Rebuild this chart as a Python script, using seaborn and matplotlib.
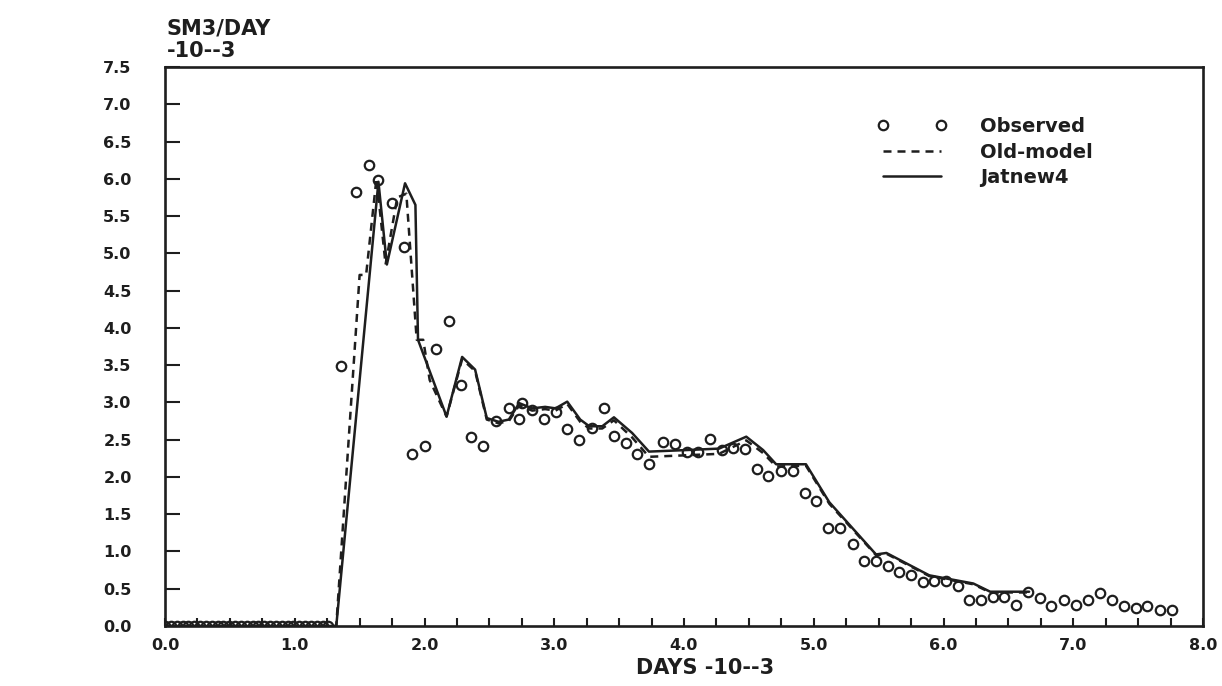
import matplotlib
matplotlib.use("Agg")
import matplotlib.pyplot as plt
import seaborn as sns
import numpy as np
from matplotlib.ticker import MultipleLocator, FormatStrFormatter

# ---------------- data ----------------
obs_zero_days = [0.00, 0.045, 0.09, 0.135, 0.18, 0.225, 0.27, 0.315, 0.36,
                 0.405, 0.45, 0.495, 0.54, 0.585, 0.63, 0.675, 0.72, 0.765,
                 0.81, 0.855, 0.90, 0.945, 0.99, 1.035, 1.08, 1.125, 1.17,
                 1.215, 1.26]
obs_zero_rate = [0.0] * len(obs_zero_days)

obs_days = [1.36, 1.47, 1.57, 1.64, 1.75, 1.84, 1.90, 2.00, 2.09, 2.19,
            2.28, 2.36, 2.45, 2.55, 2.65, 2.73, 2.75, 2.83, 2.92, 3.01,
            3.10, 3.19, 3.29, 3.38, 3.46, 3.55, 3.64, 3.73, 3.84, 3.93,
            4.02, 4.11, 4.20, 4.29, 4.38, 4.47, 4.56, 4.65, 4.75, 4.84,
            4.93, 5.02, 5.11, 5.20, 5.30, 5.39, 5.48, 5.57, 5.66, 5.75,
            5.84, 5.93, 6.02, 6.11, 6.20, 6.29, 6.38, 6.47, 6.56, 6.65,
            6.74, 6.83, 6.93, 7.02, 7.11, 7.21, 7.30, 7.39, 7.48, 7.57,
            7.67, 7.76]
obs_rate = [3.49, 5.82, 6.19, 5.98, 5.67, 5.09, 2.31, 2.42, 3.71, 4.09,
            3.23, 2.53, 2.41, 2.75, 2.93, 2.78, 2.99, 2.90, 2.78, 2.87,
            2.64, 2.50, 2.65, 2.92, 2.55, 2.45, 2.31, 2.17, 2.47, 2.44,
            2.34, 2.34, 2.51, 2.36, 2.39, 2.38, 2.10, 2.01, 2.08, 2.08,
            1.79, 1.68, 1.31, 1.31, 1.10, 0.87, 0.87, 0.81, 0.72, 0.69,
            0.59, 0.60, 0.60, 0.53, 0.35, 0.35, 0.39, 0.39, 0.28, 0.45,
            0.37, 0.27, 0.35, 0.28, 0.35, 0.44, 0.35, 0.27, 0.24, 0.27,
            0.21, 0.22]

old_days = [0.00, 1.32, 1.50, 1.55, 1.63, 1.70, 1.79, 1.86, 1.94, 1.99,
            2.04, 2.17, 2.29, 2.39, 2.48, 2.57, 2.65, 2.73, 2.83, 2.93,
            3.01, 3.10, 3.20, 3.27, 3.37, 3.46, 3.60, 3.73, 4.01, 4.27,
            4.48, 4.61, 4.71, 4.94, 5.12, 5.48, 5.56, 5.89, 6.23, 6.36,
            6.66]
old_rate = [0.00, 0.00, 4.71, 4.71, 6.01, 4.85, 5.75, 5.80, 3.84, 3.84,
            3.30, 2.81, 3.58, 3.42, 2.77, 2.72, 2.75, 2.96, 2.89, 2.91,
            2.89, 2.98, 2.74, 2.65, 2.65, 2.76, 2.53, 2.27, 2.29, 2.31,
            2.49, 2.32, 2.14, 2.15, 1.64, 0.95, 0.97, 0.67, 0.56, 0.45,
            0.45]

jat_days = [0.00, 1.32, 1.645, 1.71, 1.85, 1.93, 1.95, 2.17, 2.29, 2.39,
            2.48, 2.57, 2.65, 2.73, 2.83, 2.93, 3.01, 3.10, 3.20, 3.27,
            3.37, 3.46, 3.60, 3.73, 4.01, 4.27, 4.48, 4.61, 4.71, 4.94,
            5.12, 5.48, 5.56, 5.89, 6.23, 6.36, 6.66]
jat_rate = [0.00, 0.00, 5.96, 4.85, 5.94, 5.65, 3.84, 2.81, 3.61, 3.44,
            2.79, 2.74, 2.77, 2.99, 2.92, 2.94, 2.92, 3.01, 2.77, 2.68,
            2.68, 2.80, 2.59, 2.34, 2.36, 2.38, 2.54, 2.36, 2.17, 2.17,
            1.66, 0.96, 0.98, 0.68, 0.57, 0.46, 0.46]

x_major = [0.0, 1.0, 2.0, 3.0, 4.0, 5.0, 6.0, 7.0, 8.0]
y_major = [0.0, 0.5, 1.0, 1.5, 2.0, 2.5, 3.0, 3.5, 4.0, 4.5, 5.0, 5.5,
           6.0, 6.5, 7.0, 7.5]

INK = "#1e1e1e"

# ---------------- figure ----------------
sns.set_theme(style="white")
plt.rcParams["font.family"] = ["DejaVu Sans"]
plt.rcParams["font.weight"] = "bold"

fig = plt.figure(figsize=(12.22, 6.86), dpi=100)
fig.patch.set_facecolor("white")
ax = fig.add_axes([165 / 1222, 60 / 686, (1203 - 165) / 1222, (626 - 67) / 686])
ax.set_facecolor("white")

all_obs_days = obs_zero_days + obs_days
all_obs_rate = obs_zero_rate + obs_rate
sns.lineplot(x=all_obs_days, y=all_obs_rate, ax=ax, estimator=None, sort=False,
             linestyle="none", marker="o", markersize=6.8,
             markerfacecolor="none", markeredgecolor=INK, markeredgewidth=1.6,
             color=INK, label="Observed")
sns.lineplot(x=old_days, y=old_rate, ax=ax, estimator=None, sort=False,
             color=INK, linewidth=1.8, linestyle=(0, (3.2, 2.4)),
             label="Old-model")
sns.lineplot(x=jat_days, y=jat_rate, ax=ax, estimator=None, sort=False,
             color=INK, linewidth=1.8, label="Jatnew4")

ax.set_xlim(0, 8.0)
ax.set_ylim(0, 7.5)
ax.set_xticks(x_major)
ax.set_yticks(y_major)
ax.xaxis.set_minor_locator(MultipleLocator(0.25))
ax.xaxis.set_major_formatter(FormatStrFormatter("%.1f"))
ax.yaxis.set_major_formatter(FormatStrFormatter("%.1f"))
ax.tick_params(axis="x", which="both", direction="in", length=6, width=1.5,
               color=INK, labelsize=11.5, pad=9, labelcolor=INK, bottom=True)
ax.tick_params(axis="y", which="major", direction="in", length=11, width=1.5,
               color=INK, labelsize=11.5, pad=24, labelcolor=INK, left=True)
for lab in ax.get_xticklabels() + ax.get_yticklabels():
    lab.set_fontweight("bold")
for s in ax.spines.values():
    s.set_visible(True)
    s.set_linewidth(1.9)
    s.set_color(INK)
ax.set_xlabel("")
ax.set_ylabel("")

leg = ax.legend(loc="upper left", bbox_to_anchor=(877 / 1222, 1 - 117 / 686),
                bbox_transform=fig.transFigure, frameon=False, numpoints=2,
                handlelength=3.6, handletextpad=1.7, labelspacing=0.34,
                borderpad=0, borderaxespad=0,
                prop={"size": 14, "weight": "bold"})
for t in leg.get_texts():
    t.set_color(INK)

fig.text(167 / 1222, 1 - 28 / 686, "SM3/DAY", fontsize=15, fontweight="bold",
         ha="left", va="center", color=INK)
fig.text(167 / 1222, 1 - 51 / 686, "-10--3", fontsize=15, fontweight="bold",
         ha="left", va="center", color=INK)
fig.text(705 / 1222, 1 - 668 / 686, "DAYS -10--3", fontsize=15,
         fontweight="bold", ha="center", va="center", color=INK)

fig.savefig("out.png", dpi=100, facecolor="white")
